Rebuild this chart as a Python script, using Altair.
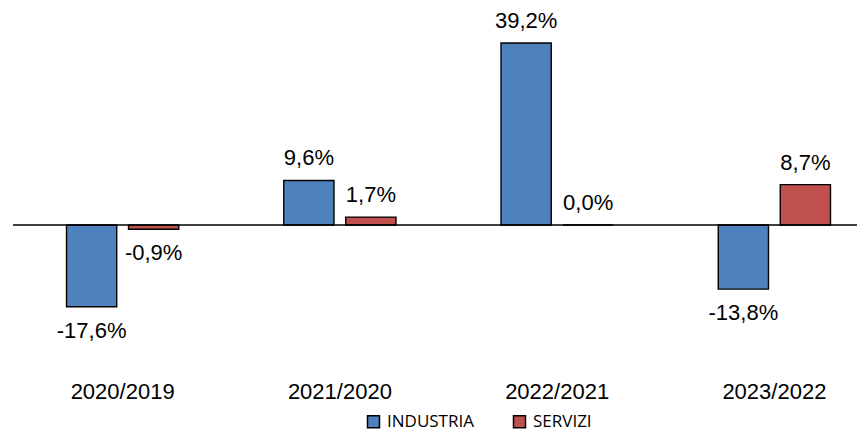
import altair as alt
import pandas as pd

periods = ["2020/2019", "2021/2020", "2022/2021", "2023/2022"]
industria = [-17.6, 9.6, 39.2, -13.8]
servizi = [-0.9, 1.7, 0.0, 8.7]
series = ["INDUSTRIA", "SERVIZI"]
colors = ["#4F81BD", "#C0504D"]

rows = []
for i, p in enumerate(periods):
    rows.append({"period": p, "serie": series[0], "value": industria[i]})
    rows.append({"period": p, "serie": series[1], "value": servizi[i]})
df = pd.DataFrame(rows)

FONT = "Liberation Sans"
YDOM = [-44.58, 46.74]

x = alt.X("period:N", sort=periods, title=None,
          scale=alt.Scale(range=[6, 875], paddingInner=0, paddingOuter=0),
          axis=None)
xo = alt.XOffset("serie:N", sort=series,
                 scale=alt.Scale(paddingInner=0.19, paddingOuter=0.847))
y = alt.Y("value:Q", title=None,
          scale=alt.Scale(domain=YDOM, nice=False, zero=False),
          axis=None)

base = alt.Chart(df)

bars = base.mark_bar(stroke="#000000", strokeWidth=1.4).encode(
    x=x, xOffset=xo, y=y,
    y2=alt.datum(0),
    fill=alt.Fill("serie:N", sort=series,
                  scale=alt.Scale(domain=series, range=colors),
                  legend=alt.Legend(title=None, orient="none", direction="horizontal",
                                    legendX=357, legendY=405,
                                    symbolType="square", symbolSize=144,
                                    symbolStrokeColor="#000000", symbolStrokeWidth=1.5,
                                    labelFont="Open Sans", labelFontSize=17,
                                    labelColor="#000000", labelOffset=5,
                                    columnPadding=36)),
)

zero = alt.Chart(pd.DataFrame({"z": [0]})).mark_rule(color="#000000", strokeWidth=1.5).encode(
    y=alt.Y("z:Q", scale=alt.Scale(domain=YDOM, nice=False, zero=False), axis=None),
    x=alt.value(5), x2=alt.value(849),
)

lab = base.transform_calculate(
    label="(datum.value < 0 ? '-' : '') + replace(format(abs(datum.value), '.1f'), '.', ',') + '%'"
)

pos = lab.transform_filter("datum.value >= 0").mark_text(
    font=FONT, fontSize=22, baseline="alphabetic", dy=-15, color="#000000"
).encode(x=x, xOffset=xo, y=y, text="label:N")

neg = lab.transform_filter("datum.value < 0").mark_text(
    font=FONT, fontSize=22, baseline="top", dy=14, color="#000000"
).encode(x=x, xOffset=xo, y=y, text="label:N")

cats = base.transform_filter(alt.datum.serie == series[0]).mark_text(
    font=FONT, fontSize=22, baseline="top", color="#000000"
).encode(x=x, y=alt.value(374), text="period:N")

chart = alt.layer(bars, zero, pos, neg, cats).properties(
    width=849, height=424,
    padding={"left": 0, "top": 0, "right": 0, "bottom": 0},
    autosize=alt.AutoSizeParams(type="none"),
    background="#ffffff",
).configure_view(strokeWidth=0, stroke=None)

chart.save("out.html", embed_options={"renderer": "svg", "actions": False})
